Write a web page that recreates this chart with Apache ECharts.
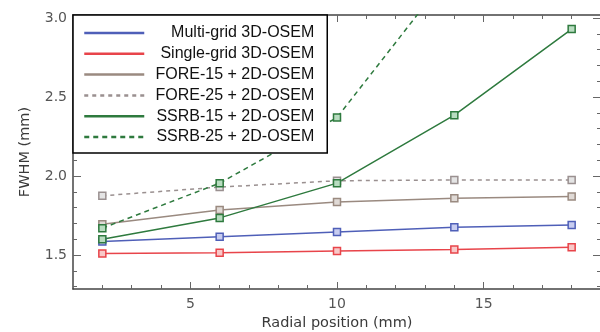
<!DOCTYPE html>
<html><head><meta charset="utf-8">
<script src="https://cdn.jsdelivr.net/npm/echarts@6/dist/echarts.min.js"></script>
<style>html,body{margin:0;padding:0;background:#fff}#c{width:600px;height:332px}</style>
</head><body><div id="c"></div>
<script>
const positions = [2, 6, 10, 14, 18];
const seriesNames = ['Multi-grid 3D-OSEM','Single-grid 3D-OSEM','FORE-15 + 2D-OSEM','FORE-25 + 2D-OSEM','SSRB-15 + 2D-OSEM','SSRB-25 + 2D-OSEM'];
const multiGrid  = [1.585, 1.615, 1.645, 1.675, 1.69];
const singleGrid = [1.51, 1.515, 1.525, 1.535, 1.55];
const fore15     = [1.695, 1.785, 1.835, 1.86, 1.87];
const fore25     = [1.875, 1.93, 1.97, 1.975, 1.975];
const ssrb15     = [1.60, 1.735, 1.955, 2.385, 2.93];
const ssrb25     = [1.67, 1.955, 2.37, 3.32, 4.3];
const yMajor = [1.5, 2.0, 2.5, 3.0];
const yMinor = [1.3, 1.4, 1.6, 1.7, 1.8, 1.9, 2.1, 2.2, 2.3, 2.4, 2.6, 2.7, 2.8, 2.9];
const xMajor = [5, 10, 15];
const xMinor = [2, 3, 4, 6, 7, 8, 9, 11, 12, 13, 14, 16, 17, 18];

const colors = ['#4f5fb8', '#e8444a', '#9a8a80', '#9a9090', '#2e7a3e', '#2e7a3e'];
const fills  = ['#c8cdf0', '#f8c8c8', '#e0dad6', '#e4e4e4', '#b8dcc0', '#b8dcc0'];
const dashes = ['solid', 'solid', 'solid', [4, 4], 'solid', [5, 4]];
const datasets = [multiGrid, singleGrid, fore15, fore25, ssrb15, ssrb25];

const chart = echarts.init(document.getElementById('c'), null, {renderer: 'canvas'});
const axisCol = '#444';
const lblFont = {fontFamily: 'DejaVu Sans', fontSize: 14, color: '#555'};
const nameFont = {fontFamily: 'DejaVu Sans', fontSize: 14.5, color: '#3a3a3a'};
const yMin = 1.285, yMax = 3.019, xMin = 1, xMax = 19;

function yAx(pos, vals, len, showLabel, showLine) {
  return {type: 'value', position: pos, min: yMin, max: yMax,
    axisLine: {show: showLine, lineStyle: {color: axisCol, width: 1.5}},
    axisTick: {show: true, inside: true, length: len, customValues: vals, lineStyle: {color: '#666'}},
    axisLabel: showLabel ? Object.assign({customValues: yMajor, formatter: v => v.toFixed(1), margin: 6}, lblFont) : {show: false},
    splitLine: {show: false}};
}
function xAx(pos, vals, len, showLabel, showLine) {
  return {type: 'value', position: pos, min: xMin, max: xMax,
    axisLine: {show: showLine, onZero: false, lineStyle: {color: axisCol, width: 1.5}},
    axisTick: {show: true, inside: true, length: len, customValues: vals, lineStyle: {color: '#666'}},
    axisLabel: showLabel ? Object.assign({customValues: xMajor, margin: 8}, lblFont) : {show: false},
    splitLine: {show: false}};
}

const xAxes = [xAx('bottom', xMajor, 7, true, true), xAx('bottom', xMinor, 4, false, false),
               xAx('top', xMajor, 7, false, true), xAx('top', xMinor, 4, false, false)];
xAxes[0].name = 'Radial position (mm)';
xAxes[0].nameLocation = 'middle';
xAxes[0].nameGap = 24;
xAxes[0].nameTextStyle = nameFont;
const yAxes = [yAx('left', yMajor, 8, true, true), yAx('left', yMinor, 4, false, false),
               yAx('right', yMajor, 8, false, false), yAx('right', yMinor, 4, false, false)];
yAxes[0].name = 'FWHM (mm)';
yAxes[0].nameLocation = 'middle';
yAxes[0].nameGap = 40;
yAxes[0].nameTextStyle = nameFont;

const series = seriesNames.map((n, i) => ({
  name: n, type: 'line', xAxisIndex: 0, yAxisIndex: 0,
  data: positions.map((p, j) => [p, datasets[i][j]]),
  symbol: 'rect', symbolSize: 7, showSymbol: true, clip: true,
  lineStyle: {color: colors[i], width: 1.5, type: dashes[i]},
  itemStyle: {color: fills[i], borderColor: colors[i], borderWidth: 1.5},
  z: i === 5 ? 3 : 2
}));

chart.setOption({
  animation: false,
  backgroundColor: '#fff',
  grid: {left: 73, top: 15, right: -1, bottom: 43, containLabel: false, outerBoundsMode: 'none'},
  xAxis: xAxes,
  yAxis: yAxes,
  legend: {
    orient: 'vertical', left: 73, top: 15,
    padding: [10, 13, 8, 10],
    backgroundColor: '#fff', borderColor: '#000', borderWidth: 1.5,
    itemWidth: 60, itemHeight: 16, itemGap: 4.8,
    itemStyle: {opacity: 0},
    lineStyle: {width: 2.5},
    data: seriesNames,
    formatter: n => '{a|' + n + '}',
    textStyle: {rich: {a: {width: 165, height: 16, lineHeight: 16, align: 'right', fontFamily: 'Liberation Sans', fontSize: 16, color: '#111'}}}
  },
  series: series
});
</script></body></html>
